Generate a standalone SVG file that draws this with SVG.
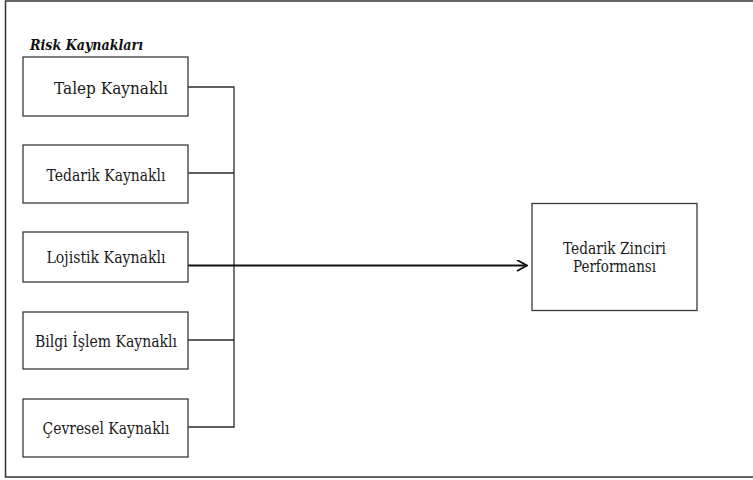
<svg xmlns="http://www.w3.org/2000/svg" width="753" height="480" viewBox="0 0 753 480">
<style>
.box{fill:#fff;stroke:#3a3a3a;stroke-width:1.3}
.t{font-family:'DejaVu Serif','Liberation Serif',serif;font-size:16.5px;fill:#1a1a1a;text-anchor:middle}
.h{font-family:'DejaVu Serif','Liberation Serif',serif;font-size:15.5px;font-weight:bold;font-style:italic;fill:#111}
.c{fill:none;stroke:#2a2a2a;stroke-width:1.3}
</style>
<defs>
<marker id="arr" viewBox="0 0 12 12" refX="11" refY="6" markerWidth="12" markerHeight="12" markerUnits="userSpaceOnUse" orient="auto">
<path d="M1,0.5 L11,6 L1,11.5" fill="none" stroke="#111" stroke-width="1.8"/>
</marker>
</defs>
<rect x="0" y="0" width="753" height="480" fill="#fff"/>
<rect x="5.5" y="1" width="760" height="476" fill="none" stroke="#333" stroke-width="1.5"/>
<text class="h" x="30" y="50" textLength="113" lengthAdjust="spacingAndGlyphs">Risk Kaynakları</text>
<g id="connectors">
<polyline class="c" points="188,87 234,87 234,427 188,427"/>
<line class="c" x1="188" y1="173" x2="234" y2="173"/>
<line class="c" x1="188" y1="340" x2="234" y2="340"/>
<line x1="188" y1="265.5" x2="527" y2="265.5" stroke="#111" stroke-width="2" marker-end="url(#arr)"/>
</g>
<g id="talep"><rect class="box" x="23" y="57" width="165" height="59"/><text class="t" x="111" y="94" textLength="114" lengthAdjust="spacingAndGlyphs">Talep Kaynaklı</text></g>
<g id="tedarik"><rect class="box" x="23" y="145" width="165" height="58"/><text class="t" x="106" y="180.5" textLength="119" lengthAdjust="spacingAndGlyphs">Tedarik Kaynaklı</text></g>
<g id="lojistik"><rect class="box" x="23" y="232" width="165" height="50"/><text class="t" x="106" y="263" textLength="119" lengthAdjust="spacingAndGlyphs">Lojistik Kaynaklı</text></g>
<g id="bilgi"><rect class="box" x="23" y="312" width="165" height="57"/><text class="t" x="106" y="346.5" textLength="142" lengthAdjust="spacingAndGlyphs">Bilgi İşlem Kaynaklı</text></g>
<g id="cevresel"><rect class="box" x="23" y="399" width="165" height="58"/><text class="t" x="106" y="434" textLength="127" lengthAdjust="spacingAndGlyphs">Çevresel Kaynaklı</text></g>
<g id="performans"><rect class="box" x="532" y="203.5" width="165" height="107"/><text class="t" x="614.5" y="254" textLength="103" lengthAdjust="spacingAndGlyphs">Tedarik Zinciri</text><text class="t" x="614.5" y="271.5" textLength="83" lengthAdjust="spacingAndGlyphs">Performansı</text></g>
</svg>
